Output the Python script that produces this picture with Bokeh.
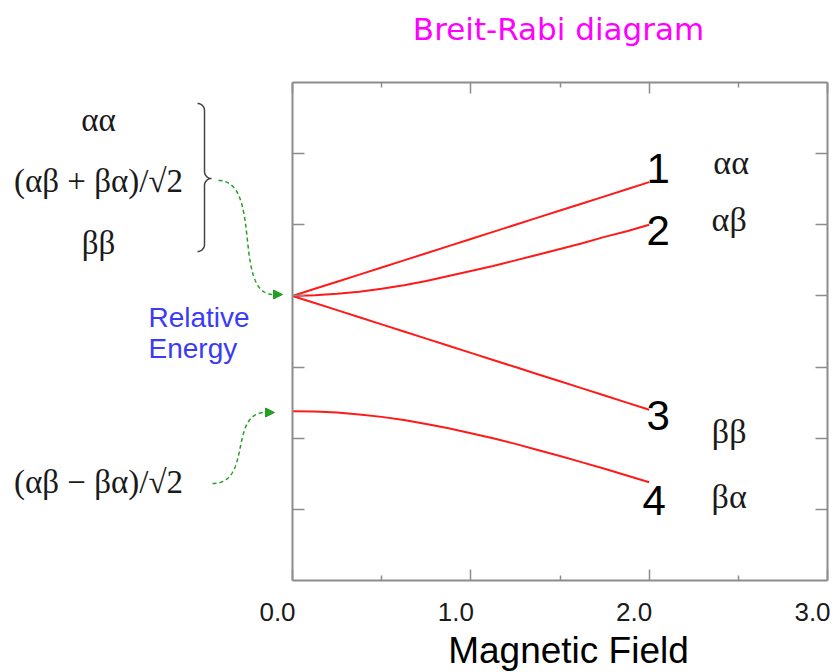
import numpy as np
from bokeh.plotting import figure
from bokeh.models import (Label, Arrow, NormalHead, LinearAxis, FixedTicker,
                          PrintfTickFormatter, Range1d)
from bokeh.core.properties import value
from bokeh.embed import file_html
from bokeh.resources import INLINE

# ---------------- data ----------------
field = [0.0, 0.125, 0.25, 0.375, 0.5, 0.625, 0.75, 0.875, 1.0,
         1.125, 1.25, 1.375, 1.5, 1.625, 1.75, 1.875, 2.0]
energy_1 = [4.0, 4.1, 4.2, 4.3, 4.4, 4.5, 4.6, 4.7, 4.8,
            4.9, 5.0, 5.1, 5.2, 5.3, 5.4, 5.5, 5.6]
energy_2 = [4.0, 4.01, 4.03, 4.06, 4.10, 4.15, 4.21, 4.28, 4.35,
            4.42, 4.50, 4.58, 4.66, 4.74, 4.83, 4.91, 5.0]
energy_3 = [4.0, 3.9, 3.8, 3.7, 3.6, 3.5, 3.4, 3.3, 3.2,
            3.1, 3.0, 2.9, 2.8, 2.7, 2.6, 2.5, 2.4]
energy_4 = [2.38, 2.375, 2.36, 2.335, 2.30, 2.255, 2.20, 2.14, 2.07,
            2.0, 1.92, 1.835, 1.75, 1.66, 1.57, 1.475, 1.38]

x_ticks = [0.0, 1.0, 2.0, 3.0]
x_minor_ticks = [0.5, 1.5, 2.5]
y_ticks = [1, 2, 3, 4, 5, 6]
x_bounds = (0.0, 3.0)
y_bounds = (0.0, 7.0)

title_text = "Breit-Rabi diagram"
x_label = "Magnetic Field"
state_numbers = ["1", "2", "3", "4"]
state_spins = ["αα", "αβ", "ββ", "βα"]
triplet_states = ["αα", "(αβ + βα)/√2", "ββ"]
singlet_state = "(αβ − βα)/√2"

# ---------------- layout (pixels of the 838x672 page) ----------------
W, H = 838, 672
L, R, T, B = 292, 827, 82, 580  # plot box

def dx(px):
    return x_bounds[0] + (px - L) * (x_bounds[1] - x_bounds[0]) / (R - L)

def dy(py):
    return y_bounds[0] + (B - py) * (y_bounds[1] - y_bounds[0]) / (B - T)

GRAY = "#8c8c8c"
RED = "#ff1a1a"
GREEN = "#23a023"
INK = "#1a1a1a"
BLUE = "#3b3bf5"

p = figure(width=W, height=H, x_range=(dx(0), dx(W)), y_range=(dy(H), dy(0)),
           output_backend="svg", toolbar_location=None, title_location=None,
           x_axis_location=None, y_axis_location=None, min_border=0)
p.grid.visible = False
p.outline_line_color = None
p.background_fill_color = "white"
p.border_fill_color = "white"

xt = FixedTicker(ticks=x_ticks, minor_ticks=x_minor_ticks)
yt = FixedTicker(ticks=y_ticks, minor_ticks=[])

def make_axis(ticker, bounds, loc, tick_in, minor_in=0, line=True, **kw):
    ax = LinearAxis(ticker=ticker, bounds=bounds, fixed_location=loc, **kw)
    ax.axis_line_color = GRAY if line else None
    ax.axis_line_width = 2
    ax.major_tick_line_color = GRAY if line else None
    ax.minor_tick_line_color = GRAY if line else None
    ax.major_tick_line_width = 1.5
    ax.minor_tick_line_width = 1.5
    ax.major_tick_out = 0
    ax.minor_tick_out = 0
    ax.major_tick_in = tick_in
    ax.minor_tick_in = minor_in
    ax.major_label_overrides = {t: "" for t in ticker.ticks}
    ax.major_label_standoff = 0
    return ax

p.add_layout(make_axis(xt, x_bounds, y_bounds[0], 11, 5), "below")
p.add_layout(make_axis(xt, x_bounds, y_bounds[1], 11, 5), "above")
p.add_layout(make_axis(yt, y_bounds, x_bounds[0], 12), "left")
p.add_layout(make_axis(yt, y_bounds, x_bounds[1], 12), "right")

# tick labels sit a little left of their ticks in the reference:
# a label axis on a range shifted by 15 px carries them
shift = dx(L + 15) - dx(L)
p.extra_x_ranges = {"labels": Range1d(dx(0) + shift, dx(W) + shift)}
lab = LinearAxis(x_range_name="labels", ticker=FixedTicker(ticks=x_ticks, minor_ticks=[]),
                 bounds=x_bounds, fixed_location=y_bounds[0])
lab.axis_line_color = None
lab.major_tick_line_color = None
lab.minor_tick_line_color = None
lab.major_tick_in = 0
lab.major_tick_out = 0
lab.formatter = PrintfTickFormatter(format="%.1f")
lab.major_label_text_font = "Liberation Sans"
lab.major_label_text_font_size = "26px"
lab.major_label_text_color = INK
lab.major_label_standoff = 22
p.add_layout(lab, "below")

# axis title, centred where the reference puts it
title_axis = make_axis(FixedTicker(ticks=[], minor_ticks=[]),
                       (dx(568 - 250), dx(568 + 250)), y_bounds[0], 0, line=False)
title_axis.axis_label = x_label
title_axis.axis_label_text_font = "Liberation Sans"
title_axis.axis_label_text_font_size = "37px"
title_axis.axis_label_text_font_style = "normal"
title_axis.axis_label_text_color = "black"
title_axis.axis_label_standoff = 49
p.add_layout(title_axis, "below")

# ---------------- energy levels ----------------
for e in (energy_1, energy_2, energy_3, energy_4):
    p.line(field, e, line_color=RED, line_width=2, line_join="round")

ends = [energy_1[-1], energy_2[-1], energy_3[-1], energy_4[-1]]
p.text(x=[field[-1]] * 4, y=ends, text=state_numbers,
       x_offset=[9, 9, 9, 5], y_offset=[-14, 6, 6, 18],
       text_font=value("Liberation Sans"), text_font_size="42px",
       text_color="black", text_align="center", text_baseline="middle")
p.text(x=[field[-1]] * 4, y=ends, text=state_spins,
       x_offset=[82, 80, 80, 80], y_offset=[-20, -5, 22, 14],
       text_font=value("Liberation Serif"), text_font_size="34px",
       text_color=INK, text_align="center", text_baseline="middle")

# ---------------- texts outside the box ----------------
def add_label(text, px, py, font, size, color, align="center"):
    p.add_layout(Label(x=dx(px), y=dy(py), text=text, text_font=font,
                       text_font_size=size, text_color=color,
                       text_align=align, text_baseline="middle"))

add_label(title_text, 558, 28, "DejaVu Sans", "31px", "#ff00ff")
for t, py in zip(triplet_states, [119, 180, 242]):
    add_label(t, 98, py, "Liberation Serif", "33px", INK)
add_label(singlet_state, 98, 481, "Liberation Serif", "33px", INK)
add_label("Relative", 148, 317, "Liberation Sans", "28px", BLUE, align="left")
add_label("Energy", 148, 348, "Liberation Sans", "28px", BLUE, align="left")

# curly brace
def arc(cx, cy, r, a0, a1, n=12):
    a = np.radians(np.linspace(a0, a1, n))
    return list(cx + r * np.cos(a)), list(cy - r * np.sin(a))

bx, by = [], []
for part in (arc(197, 110, 7, 90, 0), ([204, 204], [110, 171]), arc(211, 171, 7, 180, 270),
             arc(211, 185, 7, 90, 180), ([204, 204], [185, 244]), arc(197, 244, 7, 0, -90)):
    bx += list(part[0]); by += list(part[1])
p.line([dx(v) for v in bx], [dy(v) for v in by], line_color="#444444", line_width=1.5)

# green dashed connector arrows
def bezier(p0, p1, p2, p3, n=200):
    t = np.linspace(0, 1, n)[:, None]
    P = [np.array(v, float) for v in (p0, p1, p2, p3)]
    return (1 - t) ** 3 * P[0] + 3 * (1 - t) ** 2 * t * P[1] + 3 * (1 - t) * t ** 2 * P[2] + t ** 3 * P[3]

for ctrl, tip in (
    (((218, 180), (262, 180), (232, 294), (273, 294)), (282, 294)),
    (((212, 483), (252, 483), (228, 412), (265, 412)), (274, 412)),
):
    pts = bezier(*ctrl)
    p.line([dx(v) for v in pts[:, 0]], [dy(v) for v in pts[:, 1]],
           line_color=GREEN, line_width=1.5, line_dash="4 3")
    p.add_layout(Arrow(x_start=dx(ctrl[3][0]), y_start=dy(ctrl[3][1]),
                       x_end=dx(tip[0]), y_end=dy(tip[1]),
                       end=NormalHead(size=9, fill_color=GREEN, line_color=GREEN),
                       line_color=GREEN, line_width=1.5))

open("out.html", "w").write(file_html(p, INLINE))
